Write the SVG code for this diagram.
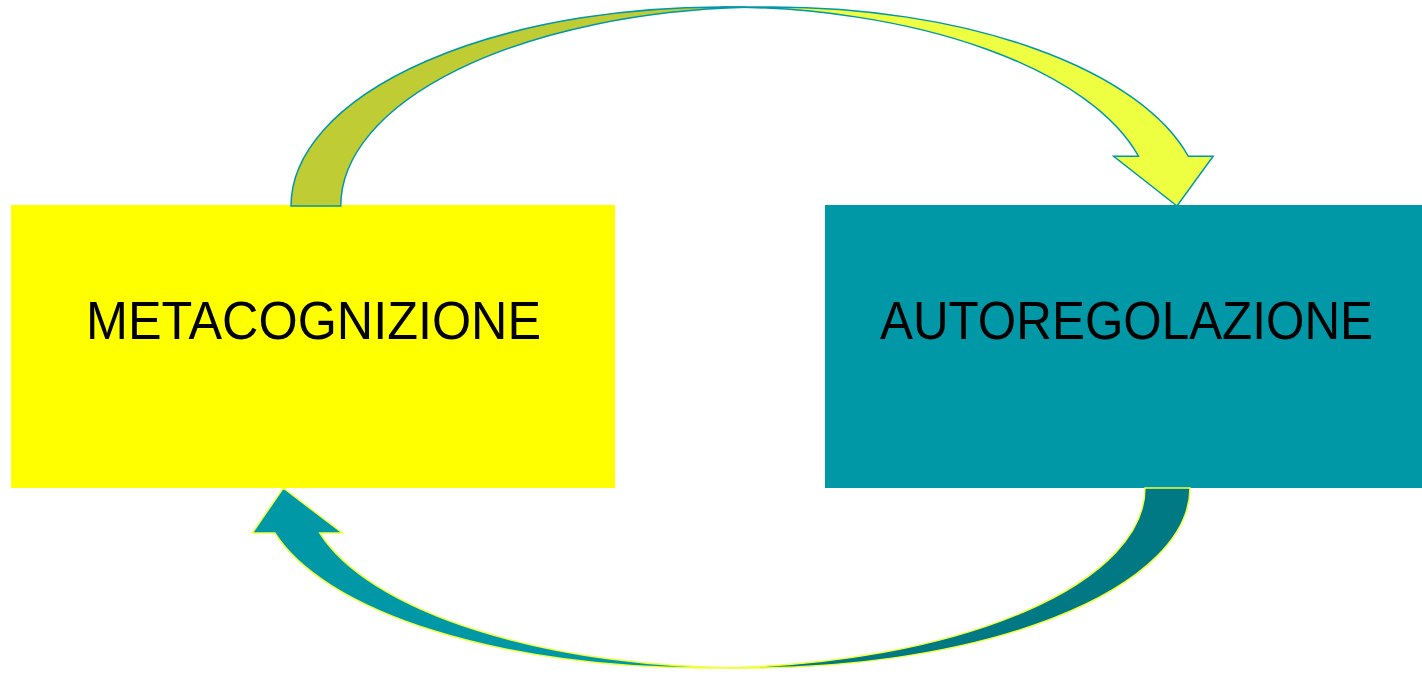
<svg xmlns="http://www.w3.org/2000/svg" width="1422" height="674" viewBox="0 0 1422 674">
<style>
.lbl{font-family:"Liberation Sans",Arial,sans-serif;font-size:54px;fill:#000}
.a1{stroke:#0097A7;stroke-width:1.5;stroke-linejoin:miter}
.a2{stroke:#EEFF41;stroke-width:1.5;stroke-linejoin:miter}
</style>
<rect width="1422" height="674" fill="#FFFFFF"/>
<g id="node-metacognizione">
<rect x="11" y="205" width="604" height="283" fill="#FFFF00"/>
<text class="lbl" x="86" y="339" textLength="455" lengthAdjust="spacingAndGlyphs">METACOGNIZIONE</text>
</g>
<g id="node-autoregolazione">
<rect x="825" y="205" width="597" height="283" fill="#0097A7"/>
<text class="lbl" x="880" y="339" textLength="493" lengthAdjust="spacingAndGlyphs">AUTOREGOLAZIONE</text>
</g>
<g id="connectors">
<g id="arrow-top" transform="translate(291,7)">
<path class="a1" fill="#EEFF41" d="M886,199 L822.65,149.25 L847.53,149.25 A430.6 199 0 0 0 430.6,0 L480.35,0 A430.6 199 0 0 1 897.28,149.25 L922.16,149.25 Z"/>
<path class="a1" fill="#BFCC34" d="M455.48,0.33 A430.6 199 0 0 0 49.75,199 L0,199 A430.6 199 0 0 1 455.48,0.33 Z"/>
</g>
<g id="arrow-bottom" transform="translate(1190,668) scale(-1,-1)">
<path class="a2" fill="#0097A7" d="M906.7,180 L847.66,135 L870.16,135 A442.1 180 0 0 0 442.1,0 L487.1,0 A442.1 180 0 0 1 915.16,135 L937.66,135 Z"/>
<path class="a2" fill="#007985" d="M464.6,0.23 A442.1 180 0 0 0 45,180 L0,180 A442.1 180 0 0 1 464.6,0.23 Z"/>
</g>
</g>
</svg>
